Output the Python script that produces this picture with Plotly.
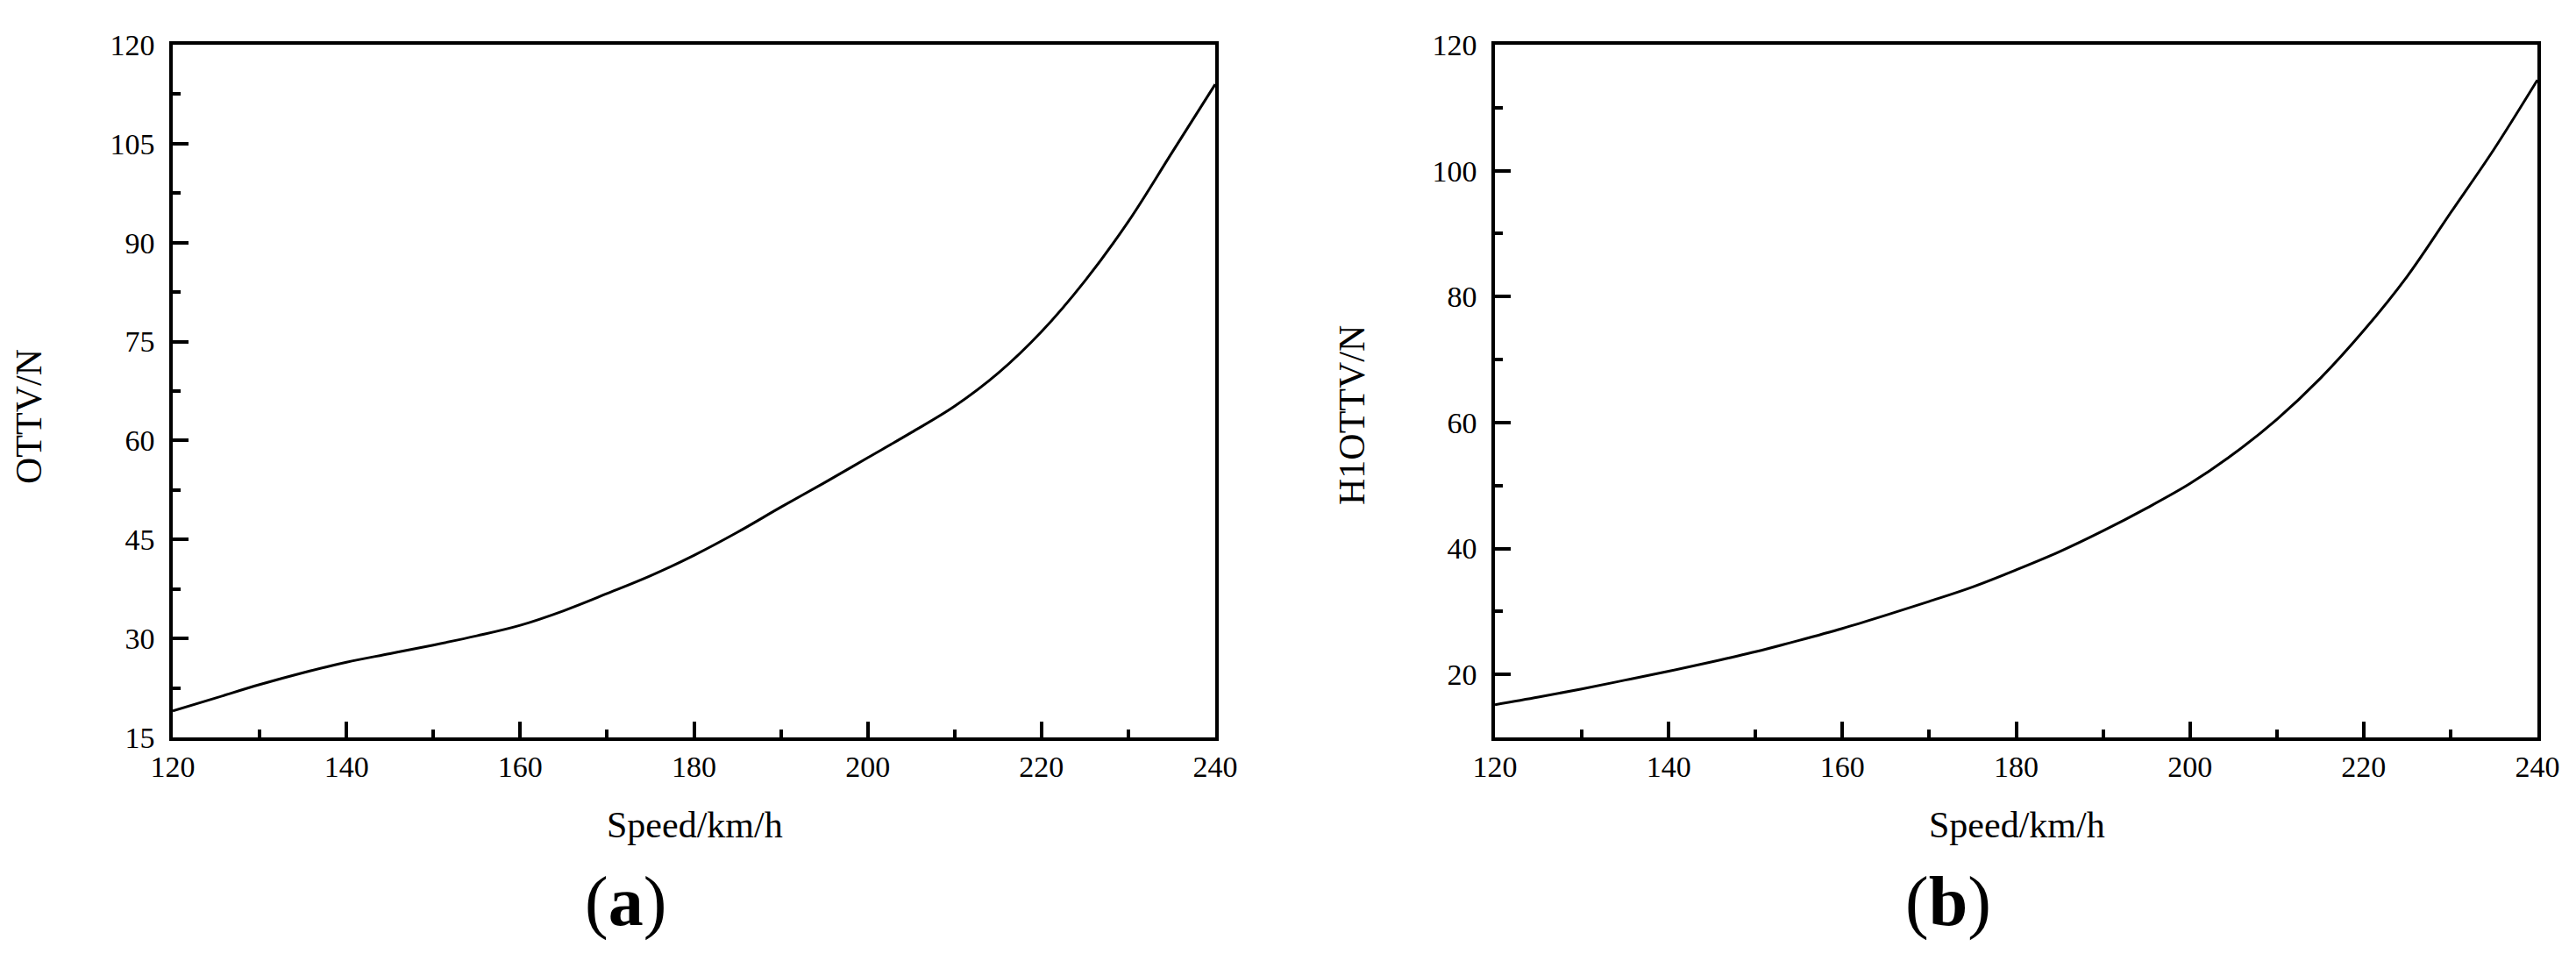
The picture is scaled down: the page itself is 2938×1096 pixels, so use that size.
import plotly.graph_objects as go

# ---- data ----
speed = [120, 125, 130, 135, 140, 145, 150, 155, 160, 165, 170, 175, 180,
         185, 190, 195, 200, 205, 210, 215, 220, 225, 230, 235, 240]

ottv = [19.0, 21.0, 23.0, 24.8, 26.4, 27.7, 29.0, 30.4, 32.0, 34.2, 36.8, 39.5, 42.6,
        46.1, 49.9, 53.6, 57.4, 61.2, 65.2, 70.2, 76.5, 84.2, 93.2, 103.6, 114.0]

h1ottv = [15.2, 16.4, 17.7, 19.1, 20.5, 22.0, 23.6, 25.4, 27.3, 29.4, 31.6, 33.9, 36.6,
          39.5, 42.8, 46.4, 50.3, 55.0, 60.5, 67.0, 74.6, 83.2, 93.3, 103.4, 114.4]

x_ticks = [120, 140, 160, 180, 200, 220, 240]
ya_ticks = [15, 30, 45, 60, 75, 90, 105, 120]
yb_ticks = [20, 40, 60, 80, 100, 120]

x_title = "Speed/km/h"
ya_title = "OTTV/N"
yb_title = "H1OTTV/N"
panel_a = "(<b>a</b>)"
panel_b = "(<b>b</b>)"

W, H = 2938, 1096
OFF = 8  # page body offset
FONT = "Liberation Serif, Times New Roman, serif"
TICKFONT = dict(family=FONT, size=34, color="black")

fig = go.Figure()
fig.add_trace(go.Scatter(x=speed, y=ottv, mode="lines", line=dict(color="black", width=3, shape="spline"),
                         xaxis="x", yaxis="y", showlegend=False))
fig.add_trace(go.Scatter(x=speed, y=h1ottv, mode="lines", line=dict(color="black", width=3, shape="spline"),
                         xaxis="x2", yaxis="y2", showlegend=False))

def px_x(p):
    return (p - OFF) / W

def px_y(p):
    return 1 - (p - OFF) / H

ydom = [px_y(841), px_y(51)]

common_axis = dict(showline=True, linecolor="black", linewidth=3.5, mirror=True,
                   ticks="inside", ticklen=18, tickwidth=3.5, tickcolor="black",
                   showgrid=False, zeroline=False, tickfont=TICKFONT, automargin=False)

minor_style = dict(ticks="inside", ticklen=9, tickwidth=3.5, tickcolor="black", showgrid=False)

fig.update_layout(
    width=W, height=H,
    margin=dict(l=0, r=0, t=0, b=0, autoexpand=False),
    paper_bgcolor="white", plot_bgcolor="white",
    xaxis=dict(domain=[px_x(197), px_x(1386)], range=[120, 240], tickmode="array", tickvals=x_ticks,
               anchor="y", ticklabelstandoff=0,
               minor=dict(dtick=10, tick0=120, **minor_style),
               **common_axis),
    yaxis=dict(domain=ydom, range=[15, 120], tickmode="array", tickvals=ya_ticks, anchor="x",
               ticklabelstandoff=10,
               minor=dict(dtick=7.5, tick0=15, **minor_style),
               **common_axis),
    xaxis2=dict(domain=[px_x(1705), px_x(2894)], range=[120, 240], tickmode="array", tickvals=x_ticks,
                anchor="y2", ticklabelstandoff=0,
                minor=dict(dtick=10, tick0=120, **minor_style),
                **common_axis),
    yaxis2=dict(domain=ydom, range=[10, 120], tickmode="array", tickvals=yb_ticks, anchor="x2",
                ticklabelstandoff=10,
                minor=dict(dtick=10, tick0=10, **minor_style),
                **common_axis),
)

ann_font = dict(family=FONT, size=42, color="black")
panel_font = dict(family=FONT, size=80, color="black")
annotations = [
    dict(text=x_title, x=px_x(792), y=px_y(941), xref="paper", yref="paper",
         xanchor="center", yanchor="middle", showarrow=False, font=ann_font),
    dict(text=x_title, x=px_x(2300), y=px_y(941), xref="paper", yref="paper",
         xanchor="center", yanchor="middle", showarrow=False, font=ann_font),
    dict(text=ya_title, x=px_x(33), y=px_y(475), xref="paper", yref="paper", textangle=-90,
         xanchor="center", yanchor="middle", showarrow=False, font=ann_font),
    dict(text=yb_title, x=px_x(1542), y=px_y(474), xref="paper", yref="paper", textangle=-90,
         xanchor="center", yanchor="middle", showarrow=False, font=ann_font),
    dict(text=panel_a, x=px_x(713), y=px_y(1028), xref="paper", yref="paper",
         xanchor="center", yanchor="middle", showarrow=False, font=panel_font),
    dict(text=panel_b, x=px_x(2222), y=px_y(1028), xref="paper", yref="paper",
         xanchor="center", yanchor="middle", showarrow=False, font=panel_font),
]
fig.update_layout(annotations=annotations)

fig.write_html("out.html")
